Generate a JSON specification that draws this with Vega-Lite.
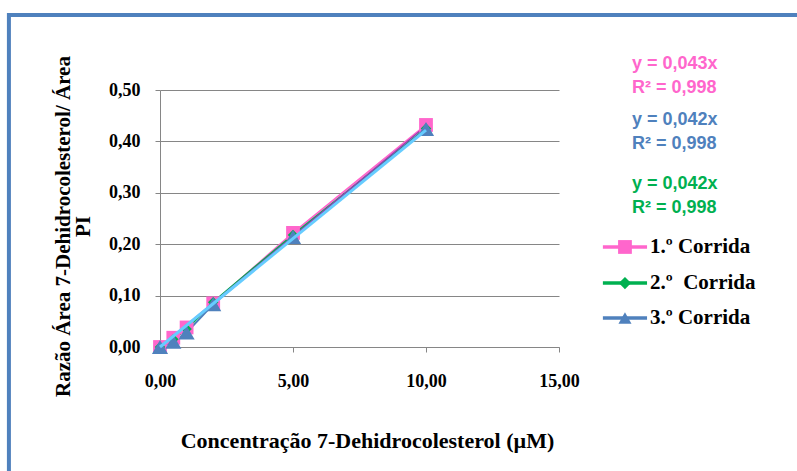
{
  "$schema": "https://vega.github.io/schema/vega-lite/v6.json",
  "width": 399,
  "height": 257,
  "autosize": {"type": "none"},
  "padding": {"left": 160, "top": 90, "right": 238, "bottom": 124},
  "background": "white",
  "config": {
    "view": {"stroke": null},
    "axis": {
      "labelFont": "Liberation Serif",
      "labelFontWeight": "bold",
      "labelFontSize": 18,
      "labelColor": "black",
      "titleFont": "Liberation Serif",
      "titleFontWeight": "bold",
      "titleFontSize": 21,
      "titleColor": "black",
      "domainColor": "#868686",
      "tickColor": "#868686",
      "gridColor": "#868686",
      "tickSize": 5
    }
  },
  "datasets": {
    "pts": [
      {"serie": "1.º Corrida", "conc": 0, "ratio": 0},
      {"serie": "1.º Corrida", "conc": 0.5, "ratio": 0.018},
      {"serie": "1.º Corrida", "conc": 1, "ratio": 0.038},
      {"serie": "1.º Corrida", "conc": 2, "ratio": 0.085},
      {"serie": "1.º Corrida", "conc": 5, "ratio": 0.222},
      {"serie": "1.º Corrida", "conc": 10, "ratio": 0.432},
      {"serie": "2.º\u00a0 Corrida", "conc": 0, "ratio": 0},
      {"serie": "2.º\u00a0 Corrida", "conc": 0.5, "ratio": 0.015},
      {"serie": "2.º\u00a0 Corrida", "conc": 1, "ratio": 0.035},
      {"serie": "2.º\u00a0 Corrida", "conc": 2, "ratio": 0.087},
      {"serie": "2.º\u00a0 Corrida", "conc": 5, "ratio": 0.218},
      {"serie": "2.º\u00a0 Corrida", "conc": 10, "ratio": 0.425},
      {"serie": "3.º Corrida", "conc": 0, "ratio": 0},
      {"serie": "3.º Corrida", "conc": 0.5, "ratio": 0.01},
      {"serie": "3.º Corrida", "conc": 1, "ratio": 0.028},
      {"serie": "3.º Corrida", "conc": 2, "ratio": 0.083},
      {"serie": "3.º Corrida", "conc": 5, "ratio": 0.214},
      {"serie": "3.º Corrida", "conc": 10, "ratio": 0.424}
    ],
    "trend": [
      {"trend": "t1", "conc": 0, "ratio": 0},
      {"trend": "t1", "conc": 10, "ratio": 0.43},
      {"trend": "t3", "conc": 0, "ratio": 0},
      {"trend": "t3", "conc": 10, "ratio": 0.422}
    ],
    "eq": [
      {"serie": "1", "conc": 17.74, "ratio": 0.5506, "txt": "y = 0,043x\nR² = 0,998"},
      {"serie": "2", "conc": 17.74, "ratio": 0.4416, "txt": "y = 0,042x\nR² = 0,998"},
      {"serie": "3", "conc": 17.74, "ratio": 0.3171, "txt": "y = 0,042x\nR² = 0,998"}
    ],
    "leg": [
      {"serie": "1.º Corrida", "conc": 16.65, "conc2": 18.31, "mx": 17.48, "lx": 18.42, "ratio": 0.1946},
      {"serie": "2.º\u00a0 Corrida", "conc": 16.65, "conc2": 18.31, "mx": 17.48, "lx": 18.42, "ratio": 0.1245},
      {"serie": "3.º Corrida", "conc": 16.65, "conc2": 18.31, "mx": 17.48, "lx": 18.42, "ratio": 0.0564}
    ],
    "frame": [
      {"conc": -5.68, "conc2": 30, "ratio": 0.6459, "ratio2": -1}
    ]
  },
  "encoding": {
    "x": {
      "field": "conc", "type": "quantitative",
      "scale": {"domain": [0, 15], "nice": false},
      "axis": {
        "values": [0, 5, 10, 15],
        "grid": false,
        "labelFlush": false,
        "labelExpr": "replace(format(datum.value, '.2f'), '.', ',')",
        "labelPadding": 20,
        "titlePadding": 40,
        "titleFontSize": 22,
        "titleX": 207,
        "title": "Concentração 7-Dehidrocolesterol (µM)"
      }
    },
    "y": {
      "field": "ratio", "type": "quantitative",
      "scale": {"domain": [0, 0.5], "nice": false},
      "axis": {
        "values": [0, 0.1, 0.2, 0.3, 0.4, 0.5],
        "grid": true,
        "labelFlush": false,
        "labelExpr": "replace(format(datum.value, '.2f'), '.', ',')",
        "labelPadding": 15,
        "titlePadding": 15,
        "titleY": 136,
        "titleLineHeight": 20,
        "title": ["Razão Área 7-Dehidrocolesterol/ Área", "PI"]
      }
    }
  },
  "layer": [
    {
      "data": {"name": "frame"},
      "mark": {"type": "rect", "fill": null, "stroke": "#4f81bd", "strokeWidth": 4, "clip": false},
      "encoding": {
        "x2": {"field": "conc2"},
        "y2": {"field": "ratio2"}
      }
    },
    {
      "data": {"name": "pts"},
      "mark": {"type": "line", "strokeWidth": 2, "clip": false},
      "encoding": {
        "stroke": {
          "field": "serie", "type": "nominal",
          "scale": {"domain": ["1.º Corrida", "2.º\u00a0 Corrida", "3.º Corrida"], "range": ["#ff66cc", "#00b050", "#4f81bd"]},
          "legend": null
        }
      }
    },
    {
      "data": {"name": "trend"},
      "transform": [{"filter": "datum.trend == 't1'"}],
      "mark": {"type": "line", "stroke": "#8e44ad", "strokeWidth": 1.5, "clip": false},
      "encoding": {}
    },
    {
      "data": {"name": "pts"},
      "transform": [{"filter": "datum.serie == '1.º Corrida'"}],
      "mark": {"type": "point", "shape": "square", "filled": true, "fill": "#ff66cc", "opacity": 1, "size": 190, "strokeWidth": 0, "clip": false},
      "encoding": {}
    },
    {
      "data": {"name": "pts"},
      "transform": [{"filter": "datum.serie == '2.º\u00a0 Corrida'"}],
      "mark": {"type": "point", "shape": "diamond", "filled": true, "fill": "#00b050", "opacity": 1, "size": 110, "strokeWidth": 0, "clip": false},
      "encoding": {}
    },
    {
      "data": {"name": "pts"},
      "transform": [{"filter": "datum.serie == '3.º Corrida'"}],
      "mark": {"type": "point", "shape": "triangle-up", "filled": true, "fill": "#4f81bd", "opacity": 1, "size": 260, "strokeWidth": 0, "clip": false},
      "encoding": {}
    },
    {
      "data": {"name": "trend"},
      "transform": [{"filter": "datum.trend == 't3'"}],
      "mark": {"type": "line", "stroke": "#66ccff", "strokeWidth": 3, "clip": false},
      "encoding": {}
    },
    {
      "data": {"name": "leg"},
      "mark": {"type": "rule", "strokeWidth": 3.5, "clip": false},
      "encoding": {
        "x2": {"field": "conc2"},
        "stroke": {"field": "serie", "type": "nominal", "legend": null}
      }
    },
    {
      "data": {"name": "leg"},
      "transform": [{"filter": "datum.serie == '1.º Corrida'"}],
      "mark": {"type": "point", "shape": "square", "filled": true, "fill": "#ff66cc", "opacity": 1, "size": 190, "strokeWidth": 0, "clip": false},
      "encoding": {"x": {"field": "mx", "type": "quantitative"}}
    },
    {
      "data": {"name": "leg"},
      "transform": [{"filter": "datum.serie == '2.º\u00a0 Corrida'"}],
      "mark": {"type": "point", "shape": "diamond", "filled": true, "fill": "#00b050", "opacity": 1, "size": 150, "strokeWidth": 0, "clip": false},
      "encoding": {"x": {"field": "mx", "type": "quantitative"}}
    },
    {
      "data": {"name": "leg"},
      "transform": [{"filter": "datum.serie == '3.º Corrida'"}],
      "mark": {"type": "point", "shape": "triangle-up", "filled": true, "fill": "#4f81bd", "opacity": 1, "size": 170, "strokeWidth": 0, "clip": false},
      "encoding": {"x": {"field": "mx", "type": "quantitative"}}
    },
    {
      "data": {"name": "leg"},
      "mark": {"type": "text", "clip": false, "align": "left", "baseline": "middle", "font": "Liberation Serif", "fontWeight": "bold", "fontSize": 21, "fill": "black"},
      "encoding": {
        "x": {"field": "lx", "type": "quantitative"},
        "text": {"field": "serie", "type": "nominal"}
      }
    },
    {
      "data": {"name": "eq"},
      "mark": {"type": "text", "clip": false, "align": "left", "baseline": "middle", "lineBreak": "\n", "lineHeight": 24, "font": "Liberation Sans", "fontWeight": "bold", "fontSize": 18},
      "encoding": {
        "text": {"field": "txt", "type": "nominal"},
        "fill": {
          "field": "serie", "type": "nominal",
          "scale": {"domain": ["1", "2", "3"], "range": ["#ff66cc", "#4f81bd", "#00b050"]},
          "legend": null
        }
      }
    }
  ]
}
